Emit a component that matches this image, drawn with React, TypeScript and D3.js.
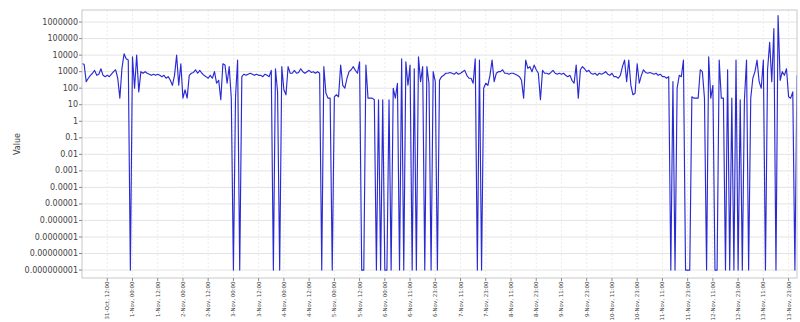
import React, { useMemo } from "react";
import * as d3 from "d3";

// hourly samples, 31-Oct 00:00 onwards (1e-9 = dropped to the floor)
const values: number[] = [
  3000, 2800, 250, 400, 600, 800, 1200, 600, 700, 1500, 600, 500, 600, 500, 700, 1000, 1300, 400, 25, 1600,
  12000, 6000, 5000, 1e-9, 8000, 100, 10000, 60, 1000, 800, 1000, 800, 700, 600, 700, 600, 700, 600, 500, 600,
  400, 500, 300, 150, 600, 10000, 150, 3000, 25, 80, 25, 600, 800, 900, 1300, 800, 1200, 800, 600, 500,
  400, 600, 400, 1000, 200, 300, 20, 3000, 2500, 200, 2000, 25, 1e-9, 30, 5000, 1e-9, 500, 700, 600, 700,
  800, 700, 600, 700, 600, 600, 500, 700, 600, 500, 1200, 1e-9, 1500, 60, 1e-9, 2000, 80, 40, 2000, 800,
  800, 1200, 800, 900, 1500, 1000, 800, 1000, 1200, 900, 1000, 800, 1000, 800, 1e-9, 2000, 50, 25, 25, 1e-9,
  30, 40, 30, 2500, 150, 100, 400, 1000, 1300, 2000, 1200, 800, 4000, 1e-9, 1e-9, 2500, 25, 25, 25, 20,
  1e-9, 20, 1e-9, 20, 1e-9, 1e-9, 20, 1e-9, 100, 25, 200, 1e-9, 6000, 1e-9, 4000, 150, 2500, 1e-9, 1500, 1e-9,
  8000, 250, 2000, 1e-9, 2000, 200, 1e-9, 1000, 250, 1e-9, 300, 500, 600, 800, 800, 900, 800, 700, 900, 700,
  800, 1000, 1200, 600, 400, 400, 200, 6000, 1e-9, 5000, 1e-9, 100, 200, 150, 600, 5000, 250, 800, 1000, 1000,
  1300, 800, 800, 700, 800, 800, 700, 600, 500, 300, 25, 5000, 1600, 2000, 1000, 2500, 1300, 800, 20, 1200,
  800, 800, 700, 900, 1200, 800, 700, 800, 700, 800, 600, 500, 600, 300, 200, 2500, 25, 1300, 2000, 1500,
  1000, 1200, 800, 700, 800, 600, 800, 700, 800, 1000, 700, 600, 800, 500, 500, 400, 600, 2000, 5000, 250,
  5000, 150, 40, 50, 3000, 200, 600, 1300, 900, 800, 900, 800, 700, 800, 600, 700, 500, 500, 400, 500,
  1e-9, 250, 1e-9, 100, 600, 500, 5000, 1e-9, 1e-9, 1e-9, 30, 25, 25, 25, 1300, 1000, 25, 1e-9, 8000, 25,
  150, 1e-9, 1e-9, 5000, 25, 25, 1e-9, 1300, 1e-9, 25, 1e-9, 5000, 1e-9, 20, 1e-9, 20, 5000, 1e-9, 25, 400,
  1000, 5000, 250, 100, 5000, 1e-9, 1300, 60000, 250, 400000, 1e-9, 2500000, 300, 1000, 600, 1500, 30, 25, 60, 1e-9,
  600,
];

const xTickLabels = [
  "31-Oct, 12:00", "1-Nov, 00:00", "1-Nov, 12:00", "2-Nov, 00:00", "2-Nov, 12:00", "3-Nov, 00:00",
  "3-Nov, 12:00", "4-Nov, 00:00", "4-Nov, 12:00", "5-Nov, 00:00", "5-Nov, 12:00", "6-Nov, 00:00",
  "6-Nov, 11:00", "6-Nov, 23:00", "7-Nov, 11:00", "7-Nov, 23:00", "8-Nov, 11:00", "8-Nov, 23:00",
  "9-Nov, 11:00", "9-Nov, 23:00", "10-Nov, 11:00", "10-Nov, 23:00", "11-Nov, 11:00", "11-Nov, 23:00",
  "12-Nov, 11:00", "12-Nov, 23:00", "13-Nov, 11:00", "13-Nov, 23:00",
];
const xTickStep = 12; // hours between labels

const yTickValues = [1e6, 1e5, 1e4, 1e3, 100, 10, 1, 0.1, 0.01, 0.001, 1e-4, 1e-5, 1e-6, 1e-7, 1e-8, 1e-9];
const yTickLabels = [
  "1000000", "100000", "10000", "1000", "100", "10", "1", "0.1", "0.01", "0.001", "0.0001",
  "0.00001", "0.000001", "0.0000001", "0.00000001", "0.000000001",
];

export default function App() {
  const width = 800;
  const height = 322;
  const plot = { left: 82, right: 797, top: 10, bottom: 278 };

  const { x, y, linePath } = useMemo(() => {
    const x = d3.scaleLinear().domain([0, values.length - 1]).range([plot.left, plot.right]);
    const y = d3.scaleLog().domain([Math.pow(10, -9.48), Math.pow(10, 6.73)]).range([plot.bottom, plot.top]);
    const line = d3.line<number>()
      .x((_, i) => x(i))
      .y(d => y(d));
    return { x, y, linePath: line(values) || "" };
  }, []);

  const font = "'DejaVu Sans', sans-serif";

  return (
    <svg
      width={width}
      height={height}
      style={{ position: "absolute", left: 0, top: 0, background: "#fff" }}
    >
      <defs>
        <clipPath id="plot-clip">
          <rect x={plot.left} y={plot.top} width={plot.right - plot.left} height={plot.bottom - plot.top} />
        </clipPath>
      </defs>

      {/* grid */}
      {yTickValues.map(v => (
        <line key={`gy-${v}`} x1={plot.left} x2={plot.right} y1={y(v)} y2={y(v)} stroke="#e4e4e4" strokeWidth={1} />
      ))}
      {xTickLabels.map((_, k) => {
        const px = x(xTickStep + k * xTickStep);
        return (
          <line key={`gx-${k}`} x1={px} x2={px} y1={plot.top} y2={plot.bottom}
            stroke="#ececec" strokeWidth={1} strokeDasharray="2,2" />
        );
      })}

      {/* series */}
      <path
        d={linePath}
        fill="none"
        stroke="#2a2ad2"
        strokeWidth={1.15}
        strokeLinejoin="round"
        clipPath="url(#plot-clip)"
      />

      {/* frame */}
      <rect x={plot.left} y={plot.top} width={plot.right - plot.left} height={plot.bottom - plot.top}
        fill="none" stroke="#c8c8c8" strokeWidth={1} />

      {/* y axis */}
      {yTickValues.map((v, k) => (
        <g key={`yt-${v}`}>
          <line x1={plot.left - 3} x2={plot.left} y1={y(v)} y2={y(v)} stroke="#888" />
          <text x={plot.left - 4} y={y(v)} dy="0.32em" textAnchor="end"
            fontFamily={font} fontSize={8} fill="#444">
            {yTickLabels[k]}
          </text>
        </g>
      ))}
      <text transform={`translate(20,${(plot.top + plot.bottom) / 2}) rotate(-90)`} textAnchor="middle"
        fontFamily={font} fontSize={8} fill="#444">
        Value
      </text>

      {/* x axis */}
      {xTickLabels.map((label, k) => {
        const px = x(xTickStep + k * xTickStep);
        return (
          <g key={`xt-${k}`}>
            <line x1={px} x2={px} y1={plot.bottom} y2={plot.bottom + 3} stroke="#888" />
            <text transform={`translate(${px + 2},${plot.bottom + 3.5}) rotate(-90)`} textAnchor="end"
              fontFamily={font} fontSize={5.5} fill="#444">
              {label}
            </text>
          </g>
        );
      })}
    </svg>
  );
}
